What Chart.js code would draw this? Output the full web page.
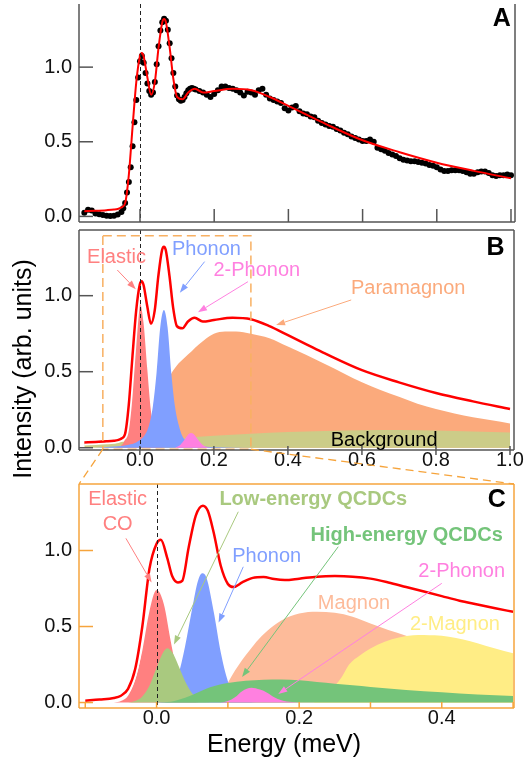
<!DOCTYPE html>
<html>
<head>
<meta charset="utf-8">
<script src="https://cdn.jsdelivr.net/npm/chart.js@4.4.1/dist/chart.umd.min.js"></script>
<style>
  html, body { margin: 0; padding: 0; background: #fff; }
  #wrap { position: relative; width: 528px; height: 765px; overflow: hidden; }
  canvas { position: absolute; left: 0; top: 0; }
</style>
</head>
<body>
<div id="wrap">
  <canvas id="panelA" width="528" height="765"></canvas>
  <canvas id="panelB" width="528" height="765"></canvas>
  <canvas id="panelC" width="528" height="765"></canvas>
</div>
<script>
// ---------- data ----------
const yTickValues = [0, 0.5, 1.0];
const energyTicksAB = [0, 0.2, 0.4, 0.6, 0.8, 1.0];
const energyTicksC = [0, 0.2, 0.4];
const minorTicksC = [-0.1, 0.1, 0.3, 0.5];

// panel A: measured spectrum (black dots)
const dataX = [-0.15,-0.14,-0.13,-0.12,-0.11,-0.10,-0.09,-0.08,-0.07,-0.06,-0.05,
  -0.045,-0.04,-0.035,-0.03,-0.025,-0.02,-0.015,-0.01,-0.005,0,
  0.005,0.01,0.015,0.02,0.025,0.03,0.035,0.04,0.045,0.05,0.055,0.06,0.065,0.07,0.075,
  0.08,0.085,0.09,0.095,0.1,0.105,0.11,0.115,0.12,0.125,0.13,0.135,0.14,0.145,0.15,
  0.16,0.17,0.18,0.19,0.20,0.21,0.22,0.23,0.24,0.25,0.26,0.27,0.28,0.29,0.30,
  0.31,0.32,0.33,0.34,0.35,0.36,0.37,0.38,0.39,0.40,0.41,0.42,0.43,0.44,0.45,
  0.46,0.47,0.48,0.49,0.50,0.51,0.52,0.53,0.54,0.55,0.56,0.57,0.58,0.59,0.60,
  0.61,0.62,0.63,0.64,0.65,0.66,0.67,0.68,0.69,0.70,0.71,0.72,0.73,0.74,0.75,
  0.76,0.77,0.78,0.79,0.80,0.81,0.82,0.83,0.84,0.85,0.86,0.87,0.88,0.89,0.90,
  0.91,0.92,0.93,0.94,0.95,0.96,0.97,0.98,0.99,1.00];
const dataY = [0.025,0.045,0.04,0.02,0.015,0.01,0.005,0.003,0.005,0.012,0.03,
  0.055,0.09,0.16,0.23,0.33,0.47,0.63,0.78,0.93,1.04,
  1.075,1.03,0.96,0.89,0.84,0.815,0.83,0.9,1.02,1.14,1.245,1.30,1.325,1.31,1.25,
  1.16,1.06,0.96,0.87,0.81,0.785,0.775,0.78,0.80,0.825,0.845,0.855,0.86,0.855,0.85,
  0.84,0.83,0.815,0.80,0.82,0.845,0.87,0.87,0.86,0.855,0.845,0.83,0.81,0.835,0.83,
  0.815,0.845,0.855,0.815,0.79,0.78,0.77,0.76,0.725,0.71,0.73,0.74,0.705,0.69,0.685,
  0.67,0.665,0.64,0.625,0.615,0.605,0.60,0.585,0.575,0.56,0.55,0.535,0.525,0.515,0.505,
  0.505,0.515,0.50,0.46,0.45,0.44,0.425,0.415,0.405,0.39,0.38,0.375,0.37,0.37,0.365,
  0.36,0.355,0.345,0.34,0.33,0.315,0.305,0.305,0.31,0.31,0.31,0.305,0.295,0.285,0.285,
  0.295,0.30,0.30,0.29,0.275,0.27,0.275,0.275,0.28,0.275];

// panels A/B: total fit (red)
const fitX = [-0.15,-0.12,-0.09,-0.07,-0.06,-0.05,-0.04,-0.03,-0.02,-0.01,0,0.005,0.01,0.02,0.03,
  0.04,0.05,0.06,0.065,0.07,0.08,0.09,0.10,0.115,0.13,0.148,0.17,0.2,0.25,0.3,0.35,0.4,
  0.45,0.5,0.6,0.7,0.8,0.9,1.0];
const fitY = [0.035,0.038,0.042,0.046,0.05,0.06,0.09,0.28,0.6,0.9,1.075,1.095,1.07,0.93,0.815,
  0.9,1.13,1.3,1.322,1.30,1.13,0.92,0.80,0.785,0.83,0.855,0.83,0.84,0.855,0.845,0.80,0.74,
  0.68,0.62,0.51,0.43,0.36,0.305,0.255];

// panel B components
const elasticBX = [-0.07,-0.06,-0.05,-0.04,-0.03,-0.02,-0.01,0,0.01,0.02,0.03,0.04,0.05,0.06,0.07];
const elasticBY = [0,0.005,0.015,0.06,0.22,0.5,0.82,0.95,0.82,0.52,0.24,0.075,0.02,0.005,0];
const phononBX = [-0.12,-0.06,-0.03,-0.01,0.005,0.015,0.025,0.035,0.045,0.055,0.065,0.075,
  0.085,0.095,0.105,0.115,0.125,0.14,0.16,0.2,0.3];
const phononBY = [0,0.01,0.02,0.035,0.06,0.09,0.15,0.27,0.49,0.79,0.905,0.79,0.49,0.27,0.15,
  0.075,0.045,0.025,0.012,0.005,0];
const twoPhononBX = [0.095,0.11,0.12,0.13,0.138,0.146,0.155,0.165,0.175,0.19];
const twoPhononBY = [0,0.02,0.05,0.085,0.097,0.088,0.06,0.03,0.01,0];
const paramagnonX = [0.0,0.02,0.04,0.06,0.08,0.10,0.12,0.14,0.16,0.18,0.20,0.23,0.26,0.30,0.35,
  0.40,0.45,0.50,0.55,0.60,0.65,0.70,0.75,0.80,0.85,0.90,0.95,1.0];
const paramagnonY = [0,0.03,0.12,0.3,0.46,0.54,0.59,0.635,0.68,0.72,0.75,0.765,0.765,0.75,0.72,
  0.665,0.61,0.55,0.49,0.43,0.38,0.335,0.29,0.255,0.225,0.2,0.18,0.16];
const backgroundX = [-0.15,-0.1,0.0,0.1,0.2,0.3,0.4,0.5,0.6,0.7,0.8,0.9,1.0];
const backgroundY = [0.03,0.035,0.045,0.06,0.078,0.092,0.103,0.11,0.115,0.116,0.113,0.107,0.10];

// panel C: total fit and components
const fitCX = [-0.10,-0.08,-0.06,-0.05,-0.04,-0.03,-0.02,-0.01,0.0,0.006,0.015,0.022,0.03,0.036,
  0.045,0.055,0.065,0.072,0.08,0.09,0.10,0.108,0.12,0.135,0.15,0.165,0.18,0.2,0.225,0.25,
  0.275,0.3,0.325,0.35,0.375,0.4,0.425,0.45,0.475,0.5];
const fitCY = [0.012,0.02,0.03,0.045,0.09,0.22,0.5,0.88,1.045,1.07,0.95,0.83,0.79,0.80,
  1.02,1.23,1.295,1.26,1.12,0.9,0.78,0.76,0.79,0.82,0.826,0.812,0.806,0.815,0.828,0.832,
  0.828,0.815,0.79,0.76,0.73,0.70,0.67,0.645,0.62,0.597];
const elasticCX = [-0.06,-0.05,-0.04,-0.03,-0.02,-0.01,0,0.01,0.02,0.03,0.04,0.05,0.06];
const elasticCY = [0,0.01,0.045,0.15,0.34,0.6,0.74,0.65,0.4,0.17,0.05,0.01,0];
const lowQcdcX = [-0.04,-0.03,-0.02,-0.01,0.0,0.008,0.015,0.022,0.03,0.04,0.05,0.06,0.07,0.08];
const lowQcdcY = [0,0.01,0.04,0.11,0.23,0.32,0.357,0.33,0.25,0.14,0.06,0.018,0.004,0];
const phononCX = [0.0,0.01,0.02,0.03,0.04,0.05,0.058,0.064,0.07,0.08,0.09,0.1,0.11,0.12,0.13,0.14];
const phononCY = [0,0.01,0.05,0.17,0.37,0.62,0.80,0.85,0.82,0.6,0.33,0.14,0.05,0.02,0.005,0];
const highQcdcX = [0.0,0.02,0.03,0.05,0.075,0.1,0.125,0.15,0.175,0.2,0.225,0.25,0.275,0.3,0.35,0.4,0.45,0.5];
const highQcdcY = [0,0.005,0.016,0.05,0.10,0.128,0.143,0.15,0.152,0.146,0.135,0.124,0.113,0.102,0.083,0.068,0.052,0.043];
const twoPhononCX = [0.09,0.1,0.11,0.12,0.133,0.145,0.155,0.165,0.175,0.19,0.2];
const twoPhononCY = [0,0.01,0.035,0.075,0.097,0.085,0.065,0.035,0.015,0.003,0];
const magnonX = [0.07,0.08,0.09,0.1,0.11,0.12,0.13,0.14,0.155,0.175,0.2,0.225,0.25,0.275,0.3,0.325,0.35,0.4,0.45,0.5];
const magnonY = [0,0.015,0.05,0.13,0.21,0.28,0.34,0.4,0.47,0.54,0.585,0.597,0.59,0.565,0.52,0.477,0.44,0.36,0.29,0.23];
const twoMagnonX = [0.22,0.235,0.25,0.26,0.27,0.285,0.3,0.32,0.34,0.36,0.375,0.39,0.41,0.43,0.45,0.475,0.5];
const twoMagnonY = [0,0.04,0.11,0.17,0.25,0.31,0.355,0.4,0.428,0.442,0.445,0.442,0.433,0.415,0.39,0.355,0.324];

// ---------- helpers ----------
const FONT = '"Liberation Sans", Arial, Helvetica, sans-serif';
const ORANGE = '#F6A43C';

function pts(xs, ys) { return xs.map((x, i) => ({ x: x, y: ys[i] })); }

function area(xs, ys, color, order) {
  return { data: pts(xs, ys), backgroundColor: color, borderColor: 'rgba(0,0,0,0)', borderWidth: 0,
    pointRadius: 0, fill: 'origin', cubicInterpolationMode: 'monotone', order: order };
}
function curve(xs, ys, color, width, order) {
  return { data: pts(xs, ys), borderColor: color, borderWidth: width, pointRadius: 0,
    fill: false, cubicInterpolationMode: 'monotone', order: order };
}

function drawArrow(ctx, x1, y1, x2, y2, color) {
  const ang = Math.atan2(y2 - y1, x2 - x1);
  const len = 9, half = 3.2;
  const bx = x2 - len * Math.cos(ang), by = y2 - len * Math.sin(ang);
  ctx.strokeStyle = color; ctx.fillStyle = color; ctx.lineWidth = 1;
  ctx.setLineDash([]);
  ctx.beginPath(); ctx.moveTo(x1, y1); ctx.lineTo(bx, by); ctx.stroke();
  ctx.beginPath();
  ctx.moveTo(x2, y2);
  ctx.lineTo(bx + half * Math.sin(ang), by - half * Math.cos(ang));
  ctx.lineTo(bx - half * Math.sin(ang), by + half * Math.cos(ang));
  ctx.closePath(); ctx.fill();
}

function seg(ctx, x1, y1, x2, y2) {
  ctx.beginPath(); ctx.moveTo(x1, y1); ctx.lineTo(x2, y2); ctx.stroke();
}

// frame, inward ticks, zero line, labels and arrows of one panel
function decor(cfg) {
  return {
    id: 'decor' + cfg.letter,
    afterDatasetsDraw(chart) {
      const ctx = chart.ctx, sx = chart.scales.x, sy = chart.scales.y, a = chart.chartArea;
      ctx.save();
      ctx.strokeStyle = '#222'; ctx.lineWidth = 1; ctx.setLineDash([4, 3]);
      const x0 = Math.round(sx.getPixelForValue(0)) + 0.5;
      seg(ctx, x0, a.top, x0, a.bottom);
      ctx.setLineDash([]);

      if (cfg.extra) cfg.extra(chart, ctx);

      ctx.strokeStyle = cfg.frame; ctx.lineWidth = 1.5;
      yTickValues.forEach(v => {
        const py = sy.getPixelForValue(v);
        seg(ctx, a.left, py, a.left + cfg.yTickLen, py);
      });
      cfg.xTicks.forEach(v => {
        const px = sx.getPixelForValue(v);
        seg(ctx, px, a.bottom - cfg.xTickIn, px, a.bottom + cfg.xTickOut);
      });
      if (cfg.sides.left) seg(ctx, a.left, a.top, a.left, a.bottom);
      if (cfg.sides.right) seg(ctx, a.right, a.top, a.right, a.bottom);
      if (cfg.sides.bottom) seg(ctx, a.left, a.bottom, a.right, a.bottom);
      if (cfg.sides.top) seg(ctx, a.left, a.top, a.right, a.top);

      (cfg.arrows || []).forEach(r => drawArrow(ctx,
        sx.getPixelForValue(r.from[0]), sy.getPixelForValue(r.from[1]),
        sx.getPixelForValue(r.to[0]), sy.getPixelForValue(r.to[1]), r.color));

      ctx.textAlign = 'center'; ctx.textBaseline = 'middle';
      (cfg.labels || []).forEach(l => {
        ctx.font = (l.bold ? 'bold ' : '') + (l.size || 20) + 'px ' + FONT;
        ctx.fillStyle = l.color;
        ctx.fillText(l.text, sx.getPixelForValue(l.x), sy.getPixelForValue(l.y));
      });
      ctx.restore();
    }
  };
}

function yAxis(min, max) {
  return {
    min: min, max: max,
    afterBuildTicks: s => { s.ticks = yTickValues.map(v => ({ value: v })); },
    ticks: { font: { family: FONT, size: 20, lineHeight: 1 }, color: '#111', padding: 7,
      callback: v => v.toFixed(1) },
    grid: { display: false, drawTicks: false },
    border: { display: false },
    afterFit: s => { s.width = 79; s.paddingTop = 0; s.paddingBottom = 0; }
  };
}
function xAxis(min, max, ticks, show) {
  return {
    type: 'linear', min: min, max: max, display: show,
    afterBuildTicks: s => { s.ticks = ticks.map(v => ({ value: v })); },
    ticks: { font: { family: FONT, size: 20, lineHeight: 1 }, color: '#111', padding: 0,
      maxRotation: 0, autoSkip: false, callback: v => v.toFixed(1) },
    grid: { display: false, drawTicks: false },
    border: { display: false },
    afterFit: s => { s.height = show ? 30 : 0; s.paddingLeft = 0; s.paddingRight = 0; }
  };
}
function baseOptions(pad, xs, ys) {
  return {
    responsive: false, animation: false, events: [],
    layout: { padding: pad },
    plugins: { legend: { display: false }, tooltip: { enabled: false } },
    scales: { x: xs, y: ys }
  };
}

// ---------- panel A ----------
const chartA = new Chart(document.getElementById('panelA'), {
  type: 'line',
  data: { datasets: [
    curve(fitX, fitY, '#FF0000', 2, 0),
    { data: pts(dataX, dataY), showLine: false, pointRadius: 3, pointBackgroundColor: '#000',
      pointBorderWidth: 0, borderColor: 'rgba(0,0,0,0)', order: 1 }
  ] },
  options: baseOptions({ top: 0, left: 0, right: 13, bottom: 543 },
    xAxis(-0.1644, 1.0108, energyTicksAB, false), yAxis(-0.0375, 1.423)),
  plugins: [decor({
    letter: 'A', frame: '#555', yTickLen: 14, xTicks: energyTicksAB, xTickIn: 13, xTickOut: 0,
    sides: { left: true, right: true, bottom: true, top: false },
    labels: [{ text: 'A', x: 0.975, y: 1.32, color: '#000', bold: true, size: 25 }]
  })]
});

// ---------- panel B ----------
const zoomBox = { x0: -0.1, x1: 0.3, y0: -0.01, y1: 1.395 };

const chartB = new Chart(document.getElementById('panelB'), {
  type: 'line',
  data: { datasets: [
    curve(fitX, fitY, '#FF0000', 2.5, 0),
    curve(fitX, fitY, '#FFFFFF', 6, 1),
    area(twoPhononBX, twoPhononBY, '#FF80E0', 2),
    area(phononBX, phononBY, '#809FFF', 3),
    area(elasticBX, elasticBY, '#FF8080', 4),
    area(backgroundX, backgroundY, '#CCCC88', 5),
    area(paramagnonX, paramagnonY, '#FBAA7C', 6)
  ] },
  options: baseOptions({ top: 230, left: 0, right: 14, bottom: 285 },
    xAxis(-0.1644, 1.0108, energyTicksAB, true), yAxis(-0.015, 1.432)),
  plugins: [decor({
    letter: 'B', frame: '#555', yTickLen: 14, xTicks: energyTicksAB, xTickIn: 4, xTickOut: 5,
    sides: { left: true, right: true, bottom: true, top: true },
    extra: (chart, ctx) => {
      const sx = chart.scales.x, sy = chart.scales.y;
      ctx.strokeStyle = '#F8B062'; ctx.lineWidth = 1.5; ctx.setLineDash([9, 5]);
      const l = sx.getPixelForValue(zoomBox.x0), r = sx.getPixelForValue(zoomBox.x1);
      const t = sy.getPixelForValue(zoomBox.y1), b = sy.getPixelForValue(zoomBox.y0);
      ctx.strokeRect(l, t, r - l, b - t);
      ctx.setLineDash([]);
      ctx.save();
      ctx.translate(24, 369); ctx.rotate(-Math.PI / 2);
      ctx.font = '25px ' + FONT; ctx.fillStyle = '#000';
      ctx.textAlign = 'center'; ctx.textBaseline = 'middle';
      ctx.fillText('Intensity (arb. units)', 0, 0);
      ctx.restore();
    },
    arrows: [
      { from: [-0.061, 1.169], to: [-0.011, 1.042], color: '#FF8080' },
      { from: [0.175, 1.224], to: [0.108, 1.02], color: '#809FFF' },
      { from: [0.292, 1.092], to: [0.157, 0.891], color: '#FF80E0' },
      { from: [0.571, 0.972], to: [0.368, 0.807], color: '#FBAA7C' }
    ],
    labels: [
      { text: 'Elastic', x: -0.063, y: 1.25, color: '#FF8080' },
      { text: 'Phonon', x: 0.18, y: 1.307, color: '#809FFF' },
      { text: '2-Phonon', x: 0.316, y: 1.169, color: '#FF80E0' },
      { text: 'Paramagnon', x: 0.725, y: 1.049, color: '#FBAA7C' },
      { text: 'Background', x: 0.66, y: 0.05, color: '#000' },
      { text: 'B', x: 0.961, y: 1.314, color: '#000', bold: true, size: 25 }
    ]
  })]
});

// ---------- panel C ----------
const chartC = new Chart(document.getElementById('panelC'), {
  type: 'line',
  data: { datasets: [
    curve(fitCX, fitCY, '#FF0000', 2.5, 0),
    curve(fitCX, fitCY, '#FFFFFF', 6, 1),
    area(twoPhononCX, twoPhononCY, '#FF80E0', 2),
    area(highQcdcX, highQcdcY, '#74C47A', 3),
    area(lowQcdcX, lowQcdcY, '#A9C97F', 4),
    area(phononCX, phononCY, '#809FFF', 5),
    area(elasticCX, elasticCY, '#FF8080', 6),
    area(twoMagnonX, twoMagnonY, '#FFED85', 7),
    area(magnonX, magnonY, '#FDBB9A', 8)
  ] },
  options: baseOptions({ top: 484, left: 0, right: 14, bottom: 27 },
    xAxis(-0.1088, 0.5013, energyTicksC, true), yAxis(-0.036, 1.4375)),
  plugins: [decor({
    letter: 'C', frame: ORANGE, yTickLen: 14, xTicks: energyTicksC.concat(minorTicksC),
    xTickIn: 6, xTickOut: 0,
    sides: { left: true, right: true, bottom: true, top: true },
    extra: (chart, ctx) => {
      const a = chart.chartArea, bx = chartB.scales.x, by = chartB.scales.y;
      ctx.strokeStyle = ORANGE; ctx.lineWidth = 1.3; ctx.setLineDash([8, 5]);
      const yb = by.getPixelForValue(zoomBox.y0);
      seg(ctx, bx.getPixelForValue(zoomBox.x0), yb, a.left, a.top);
      seg(ctx, bx.getPixelForValue(zoomBox.x1), yb, a.right, a.top);
      ctx.setLineDash([]);
      ctx.font = '25px ' + FONT; ctx.fillStyle = '#000';
      ctx.textAlign = 'center'; ctx.textBaseline = 'middle';
      ctx.fillText('Energy (meV)', 284, 745);
    },
    arrows: [
      { from: [-0.043, 1.08], to: [-0.007, 0.79], color: '#FF8080' },
      { from: [0.1146, 1.255], to: [0.0244, 0.382], color: '#A9C97F' },
      { from: [0.1216, 0.893], to: [0.087, 0.526], color: '#809FFF' },
      { from: [0.2548, 1.025], to: [0.1199, 0.168], color: '#74C47A' },
      { from: [0.40, 0.784], to: [0.1707, 0.056], color: '#FF80E0' }
    ],
    labels: [
      { text: 'Elastic', x: -0.0546, y: 1.337, color: '#FF8080' },
      { text: 'CO', x: -0.0546, y: 1.174, color: '#FF8080' },
      { text: 'Low-energy QCDCs', x: 0.2198, y: 1.337, color: '#A9C97F', bold: true },
      { text: 'High-energy QCDCs', x: 0.3508, y: 1.102, color: '#74C47A', bold: true },
      { text: 'Phonon', x: 0.1544, y: 0.959, color: '#809FFF' },
      { text: '2-Phonon', x: 0.428, y: 0.861, color: '#FF80E0' },
      { text: 'Magnon', x: 0.2769, y: 0.653, color: '#FDBB9A' },
      { text: '2-Magnon', x: 0.4185, y: 0.514, color: '#FFED85' },
      { text: 'C', x: 0.477, y: 1.332, color: '#000', bold: true, size: 25 }
    ]
  })]
});
</script>
</body>
</html>
